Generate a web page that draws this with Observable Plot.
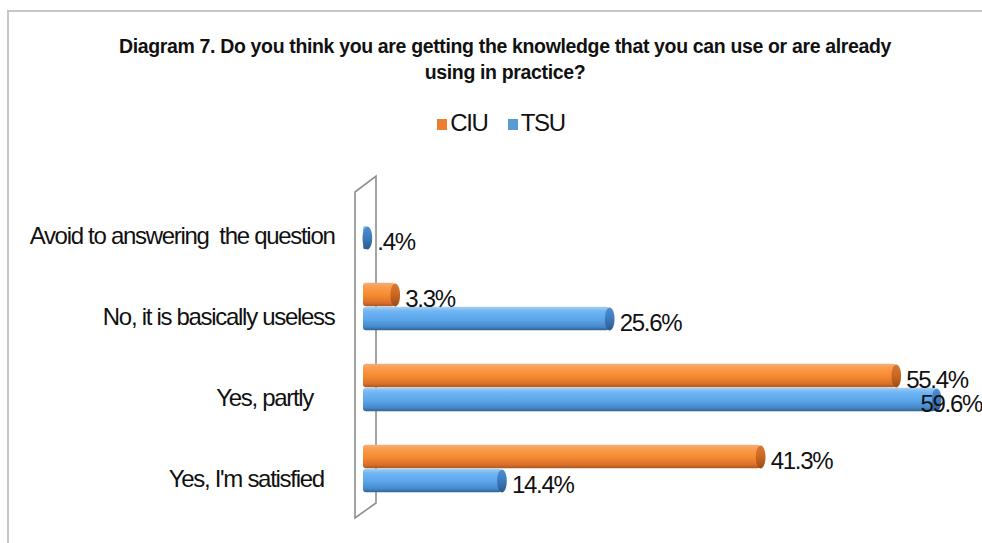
<!DOCTYPE html>
<html>
<head>
<meta charset="utf-8">
<script src="https://cdn.jsdelivr.net/npm/d3@7"></script>
<script src="https://cdn.jsdelivr.net/npm/@observablehq/plot@0.6"></script>
<style>
  html, body { margin: 0; padding: 0; background: #fff; }
  #wrap { position: relative; width: 982px; height: 543px; overflow: hidden; background: #fff;
          font-family: "Liberation Sans", Arial, sans-serif; }
  #frame { position: absolute; left: 7px; top: 10px; right: -4px; bottom: -4px;
           border-top: 2px solid #c6c6c6; border-left: 2px solid #c6c6c6; }
  #title { position: absolute; top: 33px; left: 8px; width: 994px; text-align: center;
           font-weight: bold; font-size: 19.5px; line-height: 26px; color: #111; letter-spacing: -0.35px; }
  #legend { position: absolute; top: 109px; left: 8px; width: 986px; text-align: center;
            font-size: 24px; color: #111; line-height: 28px; letter-spacing: -1.3px; }
  #legend .sw { display: inline-block; width: 10px; height: 11px; margin-right: 3px; vertical-align: 1px; }
  #legend .item { margin: 0 10px; }
  #chart { position: absolute; top: 150px; left: 0; }
</style>
</head>
<body>
<svg width="0" height="0" style="position:absolute">
  <defs>
    <linearGradient id="gO" x1="0" y1="0" x2="0" y2="1">
      <stop offset="0" stop-color="#f3b07c"/>
      <stop offset="0.18" stop-color="#fb9c4c"/>
      <stop offset="0.55" stop-color="#f4892f"/>
      <stop offset="0.85" stop-color="#d9702a"/>
      <stop offset="1" stop-color="#a9561c"/>
    </linearGradient>
    <linearGradient id="gB" x1="0" y1="0" x2="0" y2="1">
      <stop offset="0" stop-color="#a9d0f2"/>
      <stop offset="0.18" stop-color="#70b6f4"/>
      <stop offset="0.55" stop-color="#5aa6eb"/>
      <stop offset="0.85" stop-color="#4888c8"/>
      <stop offset="1" stop-color="#2f6298"/>
    </linearGradient>
    <linearGradient id="cO" x1="0" y1="0" x2="0" y2="1">
      <stop offset="0" stop-color="#d9782f"/>
      <stop offset="0.5" stop-color="#c96620"/>
      <stop offset="1" stop-color="#9a4c17"/>
    </linearGradient>
    <linearGradient id="cB" x1="0" y1="0" x2="0" y2="1">
      <stop offset="0" stop-color="#4d8fd0"/>
      <stop offset="0.5" stop-color="#3d7abb"/>
      <stop offset="1" stop-color="#2b5a8e"/>
    </linearGradient>
  </defs>
</svg>
<div id="wrap">
  <div id="frame"></div>
  <div id="title">Diagram 7. Do you think you are getting the knowledge that you can use or are already<br>using in practice?</div>
  <div id="legend"></div>
  <div id="chart"></div>
</div>
<script>
// ---- data ----
const categories = ["Avoid to answering  the question", "No, it is basically useless", "Yes, partly", "Yes, I'm satisfied"];
const categoryLabels = ["Avoid to answering  the question", "No, it is basically useless", "Yes, partly    ", "Yes, I'm satisfied  "];
const seriesNames = ["CIU", "TSU"];
const seriesColors = ["#ED7D31", "#5B9BD5"];
const ciuValues = [null, 3.3, 55.4, 41.3];
const tsuValues = [0.4, 25.6, 59.6, 14.4];
const ciuLabels = ["", "3.3%", "55.4%", "41.3%"];
const tsuLabels = [".4%", "25.6%", "59.6%", "14.4%"];

// ---- legend ----
document.getElementById("legend").innerHTML = seriesNames.map((s, i) =>
  `<span class="item"><span class="sw" style="background:${seriesColors[i]}"></span>${s}</span>`).join("");

// ---- rows ----
const ciuRows = categories.map((c, i) => ({cat: c, v: ciuValues[i], label: ciuLabels[i]})).filter(d => d.v != null);
const tsuRows = categories.map((c, i) => ({cat: c, v: tsuValues[i], label: tsuLabels[i]})).filter(d => d.v != null);
const catRows = categories.map((c, i) => ({cat: c, label: categoryLabels[i]}));

// ---- layout constants ----
const W = 982, H = 393, mT = 34, mB = 33, mL = 363, mR = 42;
const B = (H - mT - mB) / categories.length;  // band step
const T = 24;                                   // bar thickness
const xMax = 60;
const overflow = d => d.v > 57;

const ellipse = {
  draw(ctx, size) {
    const r = Math.sqrt(size / Math.PI), rx = r * 0.42, ry = r, k = 0.5523;
    ctx.moveTo(rx, 0);
    ctx.bezierCurveTo(rx, ry * k, rx * k, ry, 0, ry);
    ctx.bezierCurveTo(-rx * k, ry, -rx, ry * k, -rx, 0);
    ctx.bezierCurveTo(-rx, -ry * k, -rx * k, -ry, 0, -ry);
    ctx.bezierCurveTo(rx * k, -ry, rx, -ry * k, rx, 0);
    ctx.closePath();
  }
};

const plot = Plot.plot({
  width: W, height: H,
  marginTop: mT, marginBottom: mB, marginLeft: mL, marginRight: mR,
  style: {fontFamily: "'Liberation Sans', Arial, sans-serif", background: "transparent", color: "#111", letterSpacing: "-1.3px"},
  x: {domain: [0, xMax], axis: null},
  y: {domain: categories, axis: null, padding: 0},
  marks: [
    Plot.barX(ciuRows, {x: "v", y: "cat", fill: "url(#gO)", insetTop: B / 2 - T, insetBottom: B / 2, rx: 3}),
    Plot.barX(tsuRows, {x: "v", y: "cat", fill: "url(#gB)", insetTop: B / 2, insetBottom: B / 2 - T, rx: 3}),
    Plot.dot(ciuRows, {x: "v", y: "cat", dy: -T / 2, r: T / 2 - 0.5, symbol: ellipse, fill: "url(#cO)", stroke: "none"}),
    Plot.dot(tsuRows, {x: "v", y: "cat", dy: T / 2, r: T / 2 - 0.5, symbol: ellipse, fill: "url(#cB)", stroke: "none"}),
    Plot.text(ciuRows.filter(d => !overflow(d)), {x: "v", y: "cat", text: "label", dx: 10, dy: -T / 2 + 4, textAnchor: "start", fontSize: 24, fill: "#111"}),
    Plot.text(tsuRows.filter(d => !overflow(d)), {x: "v", y: "cat", text: "label", dx: 10, dy: T / 2 + 4, textAnchor: "start", fontSize: 24, fill: "#111"}),
    Plot.text(ciuRows.filter(overflow), {frameAnchor: "right", y: "cat", text: "label", dx: -20, dy: -T / 2 + 4, textAnchor: "start", fontSize: 24, fill: "#111"}),
    Plot.text(tsuRows.filter(overflow), {frameAnchor: "right", y: "cat", text: "label", dx: -20, dy: T / 2 + 4, textAnchor: "start", fontSize: 24, fill: "#111"}),
    Plot.text(catRows, {frameAnchor: "left", y: "cat", text: "label", dx: -29, dy: 10, textAnchor: "end", fontSize: 24, fill: "#111"})
  ]
});
plot.querySelectorAll("text").forEach(t => t.style.whiteSpace = "pre");

// 3-D back wall of the plot area
const xs = plot.scale("x");
const x0 = xs.apply(0);
const wall = document.createElementNS("http://www.w3.org/2000/svg", "path");
wall.setAttribute("d", `M${x0 - 8},${mT + 8} L${x0 + 13},${mT - 8} L${x0 + 13},${H - mB - 7} L${x0 - 8},${H - mB + 8} Z`);
wall.setAttribute("fill", "none");
wall.setAttribute("stroke", "#8e8e8e");
wall.setAttribute("stroke-width", "1.6");
plot.insertBefore(wall, plot.firstChild.nextSibling);

document.getElementById("chart").appendChild(plot);
</script>
</body>
</html>
